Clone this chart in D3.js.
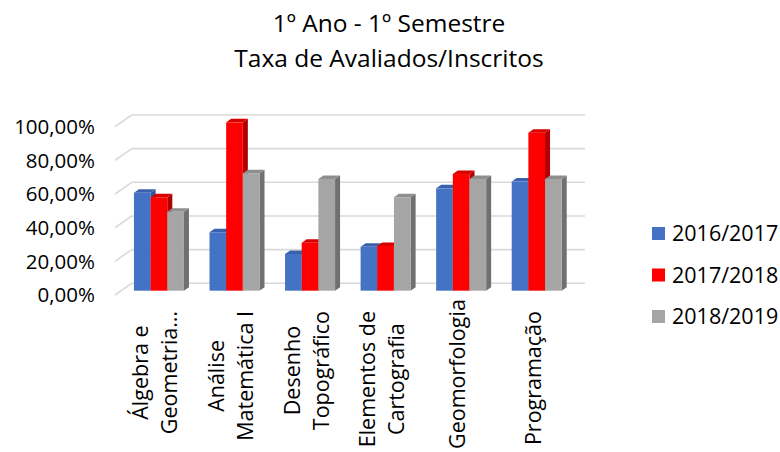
<!DOCTYPE html>
<html><head><meta charset="utf-8">
<script src="https://cdn.jsdelivr.net/npm/d3@7"></script>
<style>html,body{margin:0;padding:0;background:#fff;}svg{display:block;font-family:"Open Sans",sans-serif;}</style>
</head><body>
<svg id="c" width="780" height="452"></svg>
<script>
const titleLines = ["1º Ano - 1º Semestre", "Taxa de Avaliados/Inscritos"];
const categories = ["Álgebra e Geometria…", "Análise Matemática I", "Desenho Topográfico", "Elementos de Cartografia", "Geomorfologia", "Programação"];
const labelLines = [["Álgebra e", "Geometria…"], ["Análise", "Matemática I"], ["Desenho", "Topográfico"], ["Elementos de", "Cartografia"], ["Geomorfologia"], ["Programação"]];
const seriesNames = ["2016/2017", "2017/2018", "2018/2019"];
const s2016 = [0.582, 0.347, 0.218, 0.261, 0.608, 0.648];
const s2017 = [0.555, 1.000, 0.285, 0.266, 0.693, 0.939];
const s2018 = [0.469, 0.698, 0.664, 0.555, 0.664, 0.664];
const yTicks = [0, 0.2, 0.4, 0.6, 0.8, 1.0];
const tickLabels = ["0,00%", "20,00%", "40,00%", "60,00%", "80,00%", "100,00%"];
const colors = ["#4472C4", "#FF0000", "#A5A5A5"];
const topColors = ["#3A62AC", "#D90000", "#8E8E8E"];
const sideColors = ["#2F5597", "#B00000", "#707070"];

const series = [s2016, s2017, s2018];
const svg = d3.select("#c");

// depth projection: z in [0,1], front plane to back wall
const DX = 16.7, DY = -11.7;
const proj = (x, y, z) => [x + z * DX, y + z * DY];

const x = d3.scaleBand().domain(categories).range([115, 568.3]).paddingInner(0).paddingOuter(0);
const y = d3.scaleLinear().domain([0, 1]).range([295, 126.7]);
const xs = d3.scaleBand().domain(seriesNames).range([0, 50]);

// side wall and back wall gridlines
const grid = svg.append("g");
yTicks.forEach(t => {
  const f = proj(115, y(t), 0), b = proj(115, y(t), 1);
  grid.append("line").attr("x1", f[0]).attr("y1", f[1]).attr("x2", b[0]).attr("y2", b[1])
    .attr("stroke", "#D9D9D9").attr("stroke-width", 1.6);
  const e = proj(568.3, y(t), 1);
  grid.append("line").attr("x1", b[0]).attr("y1", b[1]).attr("x2", e[0]).attr("y2", e[1])
    .attr("stroke", "#D9D9D9").attr("stroke-width", 1.6);
});

// y tick labels
const yAxis = svg.append("g");
yTicks.forEach((t, i) => {
  yAxis.append("text").attr("x", 95).attr("y", y(t)).attr("dy", "0.35em")
    .attr("text-anchor", "end").attr("font-size", 20.5).attr("fill", "#000").text(tickLabels[i]);
});

// bars
const z0 = 0.37, z1 = 0.67;
const bars = svg.append("g");
categories.forEach((c, ci) => {
  const groupOffset = (x.bandwidth() - 50) / 2;
  series.forEach((s, si) => {
    const v = s[ci];
    const xl = x(c) + groupOffset + xs(seriesNames[si]);
    const w = xs.bandwidth();
    const fTL = proj(xl, y(v), z0), fTR = proj(xl + w, y(v), z0), fBR = proj(xl + w, y(0), z0);
    const bTL = proj(xl, y(v), z1), bTR = proj(xl + w, y(v), z1), bBR = proj(xl + w, y(0), z1);
    const fBL = proj(xl, y(0), z0);
    bars.append("polygon").attr("points", [fTR, bTR, bBR, fBR].map(p => p.join(",")).join(" ")).attr("fill", sideColors[si]);
    bars.append("polygon").attr("points", [fTL, bTL, bTR, fTR].map(p => p.join(",")).join(" ")).attr("fill", topColors[si]);
    bars.append("rect").attr("x", fTL[0]).attr("y", fTL[1]).attr("width", w).attr("height", fBL[1] - fTL[1]).attr("fill", colors[si]);
  });
});

// x labels (rotated)
const xl = svg.append("g");
const lineGap = 29, labelTop = 311, labelFs = 21.5;
categories.forEach((c, ci) => {
  const lines = labelLines[ci];
  const base = proj(x(c) + x.bandwidth() / 2, y(0), z0)[0] - 3;
  const tmp = lines.map(t => xl.append("text").attr("font-size", labelFs).text(t));
  const maxLen = d3.max(tmp, n => n.node().getComputedTextLength());
  tmp.forEach(n => n.remove());
  const cy = Math.min(labelTop + maxLen / 2, 449 - maxLen / 2);
  lines.forEach((t, li) => {
    const gx = base + (li - (lines.length - 1) / 2) * lineGap + 7;
    xl.append("text").attr("transform", `translate(${gx},${cy}) rotate(-90)`)
      .attr("text-anchor", "middle").attr("font-size", labelFs).attr("fill", "#000").text(t);
  });
});

// title
titleLines.forEach((t, i) => {
  svg.append("text").attr("x", 389).attr("y", 31.5 + i * 35).attr("text-anchor", "middle")
    .attr("font-size", 24.5).attr("fill", "#000").text(t);
});

// legend
const lg = svg.append("g");
seriesNames.forEach((n, i) => {
  const yy = 227 + i * 41.5;
  lg.append("rect").attr("x", 652).attr("y", yy).attr("width", 13).attr("height", 13).attr("fill", colors[i]);
  lg.append("text").attr("x", 672).attr("y", yy + 6.5).attr("dy", "0.36em").attr("font-size", 21.5).attr("fill", "#000").text(n);
});
</script>
</body></html>
